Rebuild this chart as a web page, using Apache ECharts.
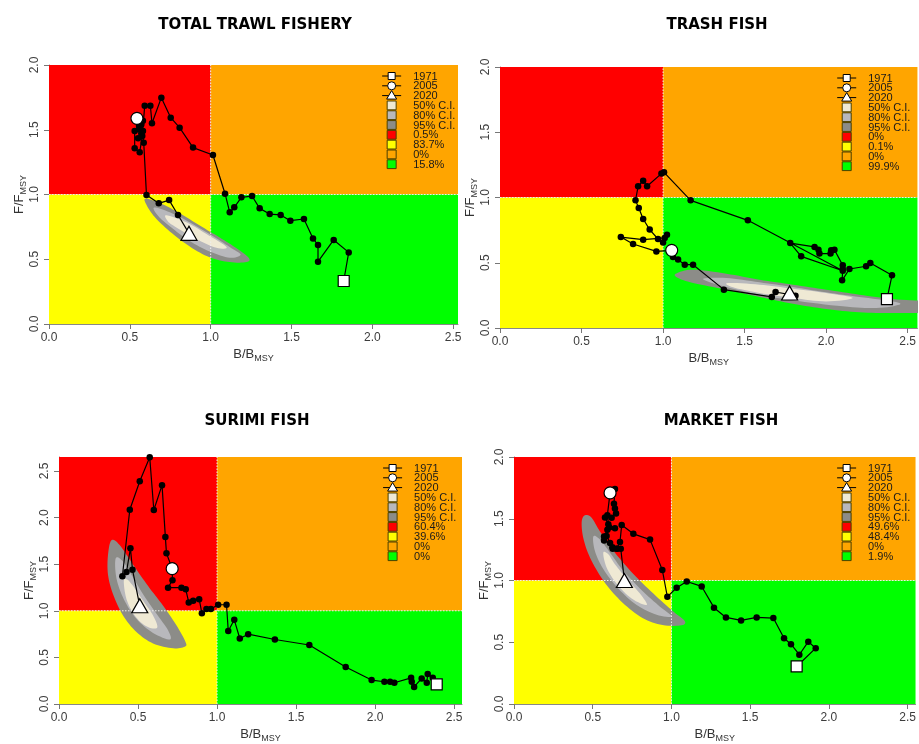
<!DOCTYPE html>
<html>
<head>
<meta charset="utf-8">
<script src="https://cdn.jsdelivr.net/npm/echarts@6/dist/echarts.min.js"></script>
<style>
  html, body { margin: 0; padding: 0; background: #ffffff; }
  #chart { width: 919px; height: 744px; }
</style>
</head>
<body>
<div id="chart"></div>
<script>
// ---- Tick labels ----
const xTicks = [0, 0.5, 1, 1.5, 2, 2.5];
const yTicks = [0, 0.5, 1, 1.5, 2];
const yTicksSurimi = [0, 0.5, 1, 1.5, 2, 2.5];

// ---- Reference points (B = BMSY, F = FMSY) ----
const refB = 1;
const refF = 1;

// ---- Legend entries ----
const legendYears = ['1971', '2005', '2020'];
const ciLabels = ['50% C.I.', '80% C.I.', '95% C.I.'];
const ciColors = ['#efe9d4', '#b8b8bc', '#8c8c88'];
// red (overfished & overfishing), yellow, orange, green
const zoneColors = ['#FF0000', '#FFFF00', '#FFA500', '#00FF00'];

// ---- TOTAL TRAWL FISHERY ----
const totalB = [1.823, 1.854, 1.761, 1.664, 1.664, 1.633, 1.577, 1.493, 1.433, 1.365, 1.303, 1.256, 1.190, 1.146, 1.118, 1.089, 1.014, 0.891, 0.808, 0.753, 0.695, 0.637, 0.627, 0.592, 0.577, 0.561, 0.530, 0.530, 0.557, 0.571, 0.551, 0.581, 0.557, 0.581, 0.544, 0.571, 0.586, 0.603, 0.679, 0.743, 0.798, 0.866];
const totalF = [0.332, 0.553, 0.649, 0.481, 0.610, 0.661, 0.811, 0.798, 0.842, 0.849, 0.893, 0.988, 0.978, 0.901, 0.862, 1.006, 1.305, 1.362, 1.516, 1.593, 1.748, 1.550, 1.686, 1.686, 1.452, 1.326, 1.357, 1.490, 1.503, 1.472, 1.434, 1.490, 1.530, 1.570, 1.588, 1.540, 1.400, 0.996, 0.932, 0.957, 0.842, 0.700];
const total2005 = 34;
const totalPct = ['0.5%', '83.7%', '0%', '15.8%'];
const totalCI95 = [[0.596, 0.968], [0.685, 0.935], [0.809, 0.855], [0.933, 0.760], [1.056, 0.668], [1.160, 0.585], [1.236, 0.510], [1.221, 0.478], [1.118, 0.478], [0.994, 0.515], [0.871, 0.598], [0.747, 0.715], [0.654, 0.826], [0.605, 0.915]];
const totalCI80 = [[0.650, 0.900], [0.767, 0.852], [0.891, 0.770], [1.015, 0.678], [1.129, 0.585], [1.185, 0.535], [1.118, 0.512], [0.994, 0.560], [0.871, 0.640], [0.767, 0.735], [0.682, 0.825]];
const totalCI50 = [[0.726, 0.840], [0.850, 0.785], [0.974, 0.695], [1.098, 0.595], [1.036, 0.588], [0.912, 0.655], [0.788, 0.745], [0.736, 0.792]];

// ---- TRASH FISH ----
const trashB = [2.373, 2.404, 2.271, 2.245, 2.143, 2.098, 2.102, 2.102, 2.051, 2.031, 2.027, 1.959, 1.953, 1.929, 1.780, 1.847, 2.102, 1.520, 1.169, 1.006, 0.990, 0.902, 0.878, 0.847, 0.831, 0.851, 0.878, 0.918, 0.969, 1.000, 1.024, 1.010, 0.878, 0.741, 0.816, 0.959, 1.053, 1.061, 1.092, 1.133, 1.184, 1.373, 1.667, 1.690, 1.812, 1.776];
const trashF = [0.222, 0.404, 0.498, 0.473, 0.452, 0.365, 0.452, 0.480, 0.600, 0.595, 0.570, 0.570, 0.600, 0.621, 0.651, 0.549, 0.439, 0.825, 0.978, 1.193, 1.183, 1.086, 1.129, 1.086, 0.978, 0.920, 0.835, 0.754, 0.682, 0.656, 0.715, 0.690, 0.677, 0.697, 0.644, 0.587, 0.595, 0.544, 0.524, 0.485, 0.485, 0.294, 0.238, 0.276, 0.248, 0.268];
const trash2005 = 36;
const trashPct = ['0%', '0.1%', '0%', '99.9%'];
const trashCI95 = [[1.078, 0.416], [1.184, 0.447], [1.388, 0.416], [1.592, 0.370], [1.796, 0.332], [2.000, 0.294], [2.204, 0.255], [2.408, 0.222], [2.612, 0.204], [2.653, 0.166], [2.612, 0.120], [2.408, 0.115], [2.204, 0.120], [2.000, 0.146], [1.796, 0.186], [1.592, 0.238], [1.388, 0.294], [1.184, 0.345], [1.092, 0.383]];
const trashCI80 = [[1.245, 0.375], [1.388, 0.383], [1.592, 0.350], [1.796, 0.314], [2.000, 0.273], [2.204, 0.238], [2.408, 0.204], [2.449, 0.179], [2.306, 0.153], [2.102, 0.166], [1.796, 0.212], [1.592, 0.255], [1.388, 0.314]];
const trashCI50 = [[1.398, 0.345], [1.592, 0.332], [1.796, 0.301], [2.000, 0.268], [2.163, 0.230], [2.000, 0.204], [1.796, 0.230], [1.592, 0.268], [1.429, 0.312]];

// ---- SURIMI FISH ----
const surimiB = [2.390, 2.365, 2.333, 2.327, 2.295, 2.247, 2.232, 2.228, 2.122, 2.095, 2.059, 1.978, 1.814, 1.584, 1.366, 1.197, 1.144, 1.109, 1.071, 1.060, 1.007, 0.961, 0.933, 0.904, 0.887, 0.849, 0.821, 0.802, 0.775, 0.690, 0.718, 0.716, 0.680, 0.673, 0.652, 0.600, 0.574, 0.511, 0.448, 0.401, 0.427, 0.452, 0.465, 0.511];
const surimiF = [0.211, 0.281, 0.323, 0.228, 0.274, 0.183, 0.239, 0.281, 0.228, 0.239, 0.239, 0.257, 0.397, 0.633, 0.692, 0.749, 0.703, 0.903, 0.784, 1.065, 1.065, 1.019, 1.019, 0.974, 1.125, 1.107, 1.090, 1.230, 1.248, 1.248, 1.329, 1.452, 1.617, 1.793, 2.348, 2.081, 2.647, 2.390, 2.084, 1.371, 1.417, 1.670, 1.441, 1.054];
const surimi2005 = 31;
const surimiPct = ['60.4%', '39.6%', '0%', '0%'];
const surimiCI95 = [[0.332, 1.757], [0.310, 1.599], [0.310, 1.388], [0.342, 1.178], [0.405, 0.949], [0.490, 0.773], [0.595, 0.650], [0.722, 0.598], [0.796, 0.615], [0.800, 0.668], [0.743, 0.844], [0.659, 1.054], [0.564, 1.265], [0.469, 1.494], [0.384, 1.705]];
const surimiCI80 = [[0.359, 1.564], [0.363, 1.353], [0.410, 1.125], [0.490, 0.914], [0.595, 0.763], [0.701, 0.692], [0.690, 0.791], [0.617, 0.967], [0.532, 1.178], [0.458, 1.388], [0.405, 1.529]];
const surimiCI50 = [[0.410, 1.318], [0.427, 1.125], [0.479, 0.949], [0.553, 0.833], [0.621, 0.819], [0.595, 0.949], [0.532, 1.107], [0.469, 1.265], [0.431, 1.336]];

// ---- MARKET FISH ----
const marketB = [1.795, 1.916, 1.869, 1.812, 1.759, 1.715, 1.647, 1.541, 1.442, 1.346, 1.270, 1.192, 1.097, 1.033, 0.974, 0.942, 0.864, 0.758, 0.684, 0.673, 0.652, 0.627, 0.610, 0.572, 0.572, 0.593, 0.641, 0.599, 0.578, 0.620, 0.648, 0.641, 0.635, 0.641, 0.610, 0.593, 0.604, 0.588, 0.625, 0.655, 0.678, 0.701];
const marketF = [0.304, 0.452, 0.505, 0.399, 0.484, 0.532, 0.696, 0.701, 0.677, 0.701, 0.780, 0.952, 0.992, 0.942, 0.868, 1.085, 1.331, 1.378, 1.450, 1.312, 1.257, 1.257, 1.304, 1.323, 1.357, 1.410, 1.423, 1.455, 1.511, 1.508, 1.542, 1.582, 1.622, 1.741, 1.709, 1.529, 1.429, 1.360, 1.270, 1.257, 1.257, 1.000];
const market2005 = 34;
const marketPct = ['49.6%', '48.4%', '0%', '1.9%'];
const marketCI95 = [[0.451, 1.529], [0.430, 1.476], [0.440, 1.344], [0.483, 1.185], [0.567, 1.000], [0.673, 0.841], [0.800, 0.709], [0.927, 0.643], [1.054, 0.635], [1.086, 0.669], [1.012, 0.749], [0.885, 0.894], [0.758, 1.053], [0.641, 1.225], [0.546, 1.397], [0.493, 1.508]];
const marketCI80 = [[0.504, 1.357], [0.514, 1.238], [0.567, 1.093], [0.663, 0.934], [0.779, 0.802], [0.906, 0.722], [1.001, 0.709], [0.927, 0.788], [0.811, 0.921], [0.694, 1.079], [0.610, 1.225], [0.546, 1.331]];
const marketCI50 = [[0.567, 1.225], [0.588, 1.106], [0.652, 0.974], [0.747, 0.854], [0.843, 0.802], [0.800, 0.894], [0.716, 1.013], [0.641, 1.132], [0.599, 1.212]];

// ---- Panel layout ----
const panels = [
  { title: 'TOTAL TRAWL FISHERY', B: totalB, F: totalF, i2005: total2005, pct: totalPct,
    ci: [totalCI95, totalCI80, totalCI50], xMax: 2.53, yMax: 2.0, yTicks: yTicks,
    grid: { left: 49, top: 65, width: 409, height: 259 }, titleX: 250, titleY: 13 },
  { title: 'TRASH FISH', B: trashB, F: trashF, i2005: trash2005, pct: trashPct,
    ci: [trashCI95, trashCI80, trashCI50], xMax: 2.56, yMax: 2.0, yTicks: yTicks,
    grid: { left: 500, top: 67, width: 418, height: 261 }, titleX: 712, titleY: 13 },
  { title: 'SURIMI FISH', B: surimiB, F: surimiF, i2005: surimi2005, pct: surimiPct,
    ci: [surimiCI95, surimiCI80, surimiCI50], xMax: 2.55, yMax: 2.65, yTicks: yTicksSurimi,
    grid: { left: 59, top: 457, width: 403, height: 251 }, titleX: 252, titleY: 409 },
  { title: 'MARKET FISH', B: marketB, F: marketF, i2005: market2005, pct: marketPct,
    ci: [marketCI95, marketCI80, marketCI50], xMax: 2.55, yMax: 2.0, yTicks: yTicks,
    grid: { left: 514, top: 457, width: 402, height: 252 }, titleX: 716, titleY: 409 }
];

const FONT = '"Liberation Sans", Arial, Helvetica, sans-serif';
const ciFill = [ciColors[2], ciColors[1], ciColors[0]]; // drawn 95 -> 80 -> 50

// Closed Catmull-Rom curve through the contour vertices (pixel space)
function closedSpline(pts, steps) {
  const n = pts.length, out = [];
  for (let i = 0; i < n; i++) {
    const p0 = pts[(i - 1 + n) % n], p1 = pts[i], p2 = pts[(i + 1) % n], p3 = pts[(i + 2) % n];
    for (let s = 0; s < steps; s++) {
      const t = s / steps, t2 = t * t, t3 = t2 * t;
      out.push([0, 1].map(d => 0.5 * ((2 * p1[d]) + (-p0[d] + p2[d]) * t +
        (2 * p0[d] - 5 * p1[d] + 4 * p2[d] - p3[d]) * t2 + (-p0[d] + 3 * p1[d] - 3 * p2[d] + p3[d]) * t3)));
    }
  }
  return out;
}

const nameRich = {
  m: { fontSize: 13, color: '#333', fontFamily: FONT, lineHeight: 18, verticalAlign: 'middle' },
  s: { fontSize: 9, color: '#333', fontFamily: FONT, lineHeight: 18, verticalAlign: 'bottom' }
};

const titles = [], grids = [], xAxes = [], yAxes = [], series = [], graphics = [];

panels.forEach((p, k) => {
  titles.push({
    text: p.title, left: p.titleX, top: p.titleY, textAlign: 'center',
    textStyle: { fontFamily: '"DejaVu Sans", sans-serif', fontWeight: 'bold', fontSize: 15, color: '#000' }
  });
  grids.push(Object.assign({ containLabel: false }, p.grid));

  xAxes.push({
    gridIndex: k, type: 'value', min: 0, max: p.xMax, interval: 0.5,
    axisLine: { show: true, onZero: false, lineStyle: { color: '#888', width: 1 } },
    axisTick: { show: true, length: 5, customValues: xTicks, lineStyle: { color: '#777' } },
    axisLabel: { customValues: xTicks, formatter: v => v.toFixed(1), fontSize: 12, color: '#3c3c3c', fontFamily: FONT, margin: 8 },
    splitLine: { show: false },
    name: '{m|B/B}{s|MSY}', nameLocation: 'middle', nameGap: 21,
    nameTextStyle: { rich: nameRich }
  });
  yAxes.push({
    gridIndex: k, type: 'value', min: 0, max: p.yMax, interval: 0.5,
    axisLine: { show: true, onZero: false, lineStyle: { color: '#888', width: 1 } },
    axisTick: { show: true, length: 5, customValues: p.yTicks, lineStyle: { color: '#777' } },
    axisLabel: { customValues: p.yTicks, formatter: v => v.toFixed(1), fontSize: 12, color: '#3c3c3c', fontFamily: FONT, margin: 8, rotate: 90 },
    splitLine: { show: false },
    name: '{m|F/F}{s|MSY}', nameLocation: 'middle', nameGap: 21,
    nameTextStyle: { rich: nameRich }
  });

  // Stock-status quadrants
  const zones = [
    [0, refB, refF, p.yMax, 0],
    [0, refB, 0, refF, 1],
    [refB, p.xMax, refF, p.yMax, 2],
    [refB, p.xMax, 0, refF, 3]
  ];
  series.push({
    type: 'custom', name: 'zones' + k, xAxisIndex: k, yAxisIndex: k, z: 1, silent: true, clip: true,
    data: zones, encode: { x: [0, 1], y: [2, 3] },
    renderItem: (params, api) => {
      const a = api.coord([api.value(0), api.value(3)]);
      const b = api.coord([api.value(1), api.value(2)]);
      return { type: 'rect', shape: { x: a[0], y: a[1], width: b[0] - a[0], height: b[1] - a[1] },
               style: { fill: zoneColors[api.value(4)] } };
    }
  });

  // Confidence contours of the final year
  series.push({
    type: 'custom', name: 'ci' + k, xAxisIndex: k, yAxisIndex: k, z: 2, silent: true, clip: true,
    data: [[0, 0], [1, 1], [2, 2]], encode: { x: 0, y: 1 },
    renderItem: (params, api) => {
      const lvl = params.dataIndex;
      const pts = closedSpline(p.ci[lvl].map(q => api.coord(q)), 8);
      return { type: 'polygon', shape: { points: pts }, style: { fill: ciFill[lvl], stroke: null } };
    }
  });

  // BMSY / FMSY reference lines
  series.push({
    type: 'custom', name: 'ref' + k, xAxisIndex: k, yAxisIndex: k, z: 3, silent: true, clip: true,
    data: [[refB, refF]], encode: { x: 0, y: 1 },
    renderItem: (params, api) => {
      const v0 = api.coord([api.value(0), 0]), v1 = api.coord([api.value(0), p.yMax]);
      const h0 = api.coord([0, api.value(1)]), h1 = api.coord([p.xMax, api.value(1)]);
      const st = { stroke: '#eeeeee', lineWidth: 1, lineDash: [1.5, 1.5] };
      return { type: 'group', children: [
        { type: 'line', shape: { x1: v0[0], y1: v0[1], x2: v1[0], y2: v1[1] }, style: st },
        { type: 'line', shape: { x1: h0[0], y1: h0[1], x2: h1[0], y2: h1[1] }, style: st }
      ] };
    }
  });

  // Annual trajectory
  series.push({
    type: 'line', name: 'traj' + k, xAxisIndex: k, yAxisIndex: k, z: 4, silent: true,
    data: p.B.map((b, i) => [b, p.F[i]]),
    symbol: 'circle', symbolSize: 6.5, showAllSymbol: true,
    itemStyle: { color: '#000' }, lineStyle: { color: '#000', width: 1.2 }
  });

  // First, middle and final year markers
  const last = p.B.length - 1;
  series.push({
    type: 'scatter', name: 'years' + k, xAxisIndex: k, yAxisIndex: k, z: 5, silent: true,
    data: [
      { value: [p.B[0], p.F[0]], symbol: 'rect', symbolSize: 11 },
      { value: [p.B[p.i2005], p.F[p.i2005]], symbol: 'circle', symbolSize: 12 },
      { value: [p.B[last], p.F[last]], symbol: 'triangle', symbolSize: [16, 14] }
    ],
    itemStyle: { color: '#fff', borderColor: '#000', borderWidth: 1.2, opacity: 1 }
  });

  // Legend block
  const px25 = p.grid.left + 2.5 / p.xMax * p.grid.width;
  const x0 = px25 - 71, y0 = p.grid.top + 11, dy = 9.8;
  const cx = x0 + 9.5, tx = x0 + 31;
  const Z = 100;
  const txt = (s, y) => ({ type: 'text', z: Z, x: tx, y: y + 0.5,
    style: { text: s, fontSize: 11, fontFamily: FONT, fill: '#1a1a1a', verticalAlign: 'middle', align: 'left' } });
  legendYears.forEach((yr, r) => {
    const y = y0 + r * dy;
    graphics.push({ type: 'line', z: Z, shape: { x1: x0, y1: y, x2: x0 + 19, y2: y }, style: { stroke: '#000', lineWidth: 1 } });
    if (r === 0) graphics.push({ type: 'rect', z: Z + 1, shape: { x: cx - 3.5, y: y - 3.5, width: 7, height: 7 }, style: { fill: '#fff', stroke: '#000', lineWidth: 1 } });
    if (r === 1) graphics.push({ type: 'circle', z: Z + 1, shape: { cx: cx, cy: y, r: 4 }, style: { fill: '#fff', stroke: '#000', lineWidth: 1 } });
    if (r === 2) graphics.push({ type: 'polygon', z: Z + 1, shape: { points: [[cx, y - 5], [cx + 5, y + 3.5], [cx - 5, y + 3.5]] }, style: { fill: '#fff', stroke: '#000', lineWidth: 1 } });
    graphics.push(txt(yr, y));
  });
  const boxes = ciColors.map((c, i) => [c, ciLabels[i]]).concat(zoneColors.map((c, i) => [c, p.pct[i]]));
  boxes.forEach((bx, i) => {
    const y = y0 + (i + 3) * dy;
    graphics.push({ type: 'rect', z: Z, shape: { x: cx - 4.5, y: y - dy / 2 + 0.5, width: 9, height: dy - 1 },
                    style: { fill: bx[0], stroke: '#4a4000', lineWidth: 1 } });
    graphics.push(txt(bx[1], y));
  });
});

const chart = echarts.init(document.getElementById('chart'), null, { renderer: 'canvas' });
chart.setOption({
  animation: false,
  backgroundColor: '#ffffff',
  title: titles,
  grid: grids,
  xAxis: xAxes,
  yAxis: yAxes,
  series: series,
  graphic: { elements: graphics }
});
</script>
</body>
</html>
